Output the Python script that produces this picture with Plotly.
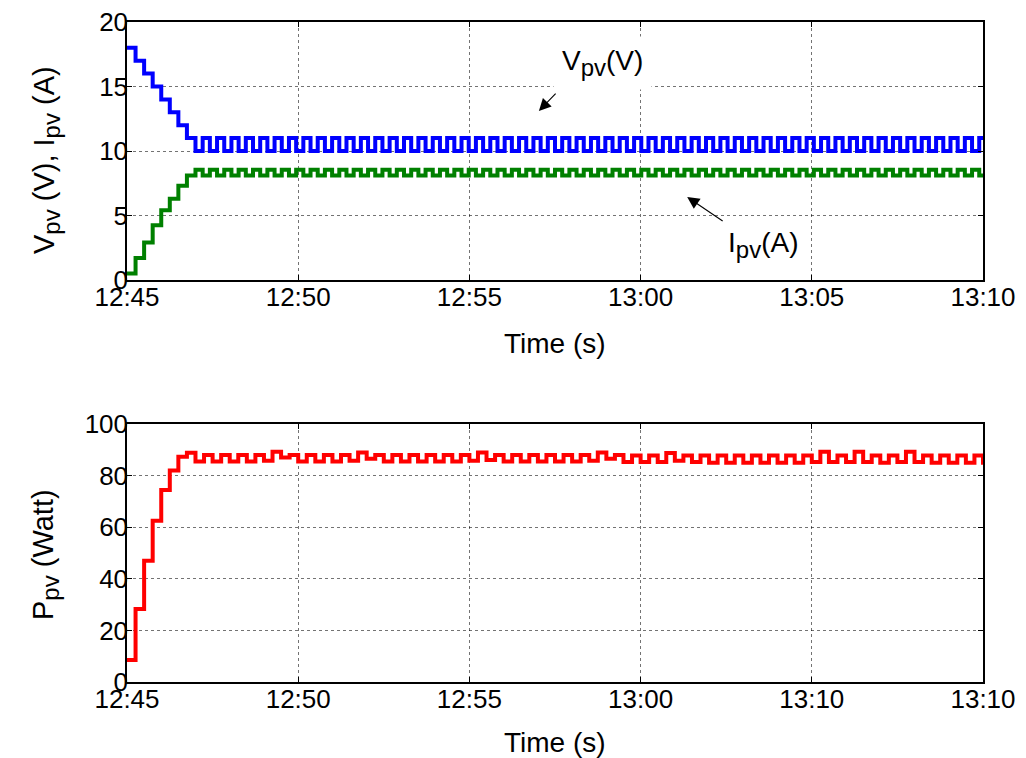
import numpy as np
import plotly.graph_objects as go

# ---------------- data ----------------
# sampling (minutes after 12:45)
TOP_TRANSIENT_DT = 0.25
TOP_OSC_DT = 0.21
BOT_DT = 0.25

v_pv = [18, 17, 16, 15, 14, 13, 12, 11,
        10, 11, 10, 11, 10, 11, 10, 11, 10, 11, 10, 11, 10, 11, 10, 11, 10, 11, 10, 11,
        10, 11, 10, 11, 10, 11, 10, 11, 10, 11, 10, 11, 10, 11, 10, 11, 10, 11, 10, 11,
        10, 11, 10, 11, 10, 11, 10, 11, 10, 11, 10, 11, 10, 11, 10, 11, 10, 11, 10, 11,
        10, 11, 10, 11, 10, 11, 10, 11, 10, 11, 10, 11, 10, 11, 10, 11, 10, 11, 10, 11,
        10, 11, 10, 11, 10, 11, 10, 11, 10, 11, 10, 11, 10, 11, 10, 11, 10, 11, 10, 11,
        10, 11, 10, 11, 10, 11, 10, 11, 10, 11, 10, 11]

i_pv = [0.5, 1.7, 2.9, 4.25, 5.4, 6.3, 7.3, 8.1,
        8.55, 8.1, 8.55, 8.1, 8.55, 8.1, 8.55, 8.1, 8.55, 8.1, 8.55, 8.1, 8.55, 8.1, 8.55, 8.1, 8.55, 8.1, 8.55, 8.1,
        8.55, 8.1, 8.55, 8.1, 8.55, 8.1, 8.55, 8.1, 8.55, 8.1, 8.55, 8.1, 8.55, 8.1, 8.55, 8.1, 8.55, 8.1, 8.55, 8.1,
        8.55, 8.1, 8.55, 8.1, 8.55, 8.1, 8.55, 8.1, 8.55, 8.1, 8.55, 8.1, 8.55, 8.1, 8.55, 8.1, 8.55, 8.1, 8.55, 8.1,
        8.55, 8.1, 8.55, 8.1, 8.55, 8.1, 8.55, 8.1, 8.55, 8.1, 8.55, 8.1, 8.55, 8.1, 8.55, 8.1, 8.55, 8.1, 8.55, 8.1,
        8.55, 8.1, 8.55, 8.1, 8.55, 8.1, 8.55, 8.1, 8.55, 8.1, 8.55, 8.1, 8.55, 8.1, 8.55, 8.1, 8.55, 8.1, 8.55, 8.1,
        8.55, 8.1, 8.55, 8.1, 8.55, 8.1, 8.55, 8.1, 8.55, 8.1, 8.55, 8.1]

p_pv = [8.5, 28.3, 47.0, 62.5, 74.4, 82.0, 87.3, 88.9,
        85.5, 88.0, 85.5, 88.0, 85.5, 88.0, 85.5, 88.0, 85.8, 89.2,
        87.0, 88.0, 85.5, 88.0, 85.5, 88.0, 85.5, 88.0, 85.8, 89.0,
        86.5, 88.0, 85.5, 88.0, 85.5, 88.0, 85.5, 88.0, 85.5, 88.0,
        85.5, 88.0, 85.8, 89.0, 86.0, 88.0, 85.5, 88.0, 85.5, 88.0,
        85.5, 88.0, 85.5, 88.0, 85.5, 88.0, 85.8, 89.0, 86.5, 88.0,
        85.3, 87.8, 85.3, 87.8, 85.3, 88.8, 85.8, 87.8, 85.3, 87.8,
        85.0, 87.8, 85.0, 87.8, 85.0, 87.8, 85.0, 87.8, 85.0, 87.8,
        85.0, 87.8, 85.3, 89.2, 85.3, 87.8, 85.3, 89.2, 85.3, 87.8,
        85.0, 87.8, 85.3, 89.2, 85.3, 87.8, 85.0, 87.8, 85.0, 87.8,
        85.0, 87.8, 85.0, 87.8]

tick_vals = [0, 5, 10, 15, 20, 25]
top_tick_text = ["12:45", "12:50", "12:55", "13:00", "13:05", "13:10"]
bot_tick_text = ["12:45", "12:50", "12:55", "13:00", "13:10", "13:10"]

n_tr = 8
t_top = np.concatenate([np.arange(n_tr) * TOP_TRANSIENT_DT,
                        n_tr * TOP_TRANSIENT_DT + np.arange(len(v_pv) - n_tr) * TOP_OSC_DT])
t_bot = np.arange(len(p_pv)) * BOT_DT

# ---------------- figure ----------------
W, H = 1026, 758


def px(x):
    return x / W


def py(y):
    return 1 - y / H


FONT = "Liberation Sans, Arial, sans-serif"
fig = go.Figure()
fig.add_trace(go.Scatter(x=t_top, y=v_pv, mode="lines", line=dict(color="#0000FF", width=4, shape="hv"),
                         xaxis="x", yaxis="y", showlegend=False))
fig.add_trace(go.Scatter(x=t_top, y=i_pv, mode="lines", line=dict(color="#008000", width=4, shape="hv"),
                         xaxis="x", yaxis="y", showlegend=False))
fig.add_trace(go.Scatter(x=t_bot, y=p_pv, mode="lines", line=dict(color="#FF0000", width=4, shape="hv"),
                         xaxis="x2", yaxis="y2", showlegend=False))

xdom = [px(127), px(983)]
common_x = dict(range=[0, 25], tickvals=tick_vals, showgrid=True, gridcolor="rgba(0,0,0,0.55)",
                griddash="dot", gridwidth=1, zeroline=False, showline=True, linecolor="black",
                linewidth=1.5, mirror="ticks", ticks="inside", ticklen=5, tickcolor="black",
                ticklabelstandoff=-7, ticklabeloverflow="allow",
                tickfont=dict(family=FONT, size=26, color="black"), automargin=False, domain=xdom)
common_y = dict(showgrid=True, gridcolor="rgba(0,0,0,0.55)", griddash="dot", gridwidth=1,
                zeroline=False, showline=True, linecolor="black", linewidth=1.5, mirror="ticks",
                ticks="inside", ticklen=5, tickcolor="black", ticklabelstandoff=-8,
                ticklabeloverflow="allow",
                tickfont=dict(family=FONT, size=26, color="black"), automargin=False)

fig.update_layout(
    width=W, height=H, margin=dict(l=0, r=0, t=0, b=0),
    paper_bgcolor="white", plot_bgcolor="white",
    xaxis=dict(common_x, ticktext=top_tick_text, anchor="y"),
    yaxis=dict(common_y, range=[0, 20], tickvals=[0, 5, 10, 15, 20],
               domain=[py(280), py(22)], anchor="x"),
    xaxis2=dict(common_x, ticktext=bot_tick_text, anchor="y2"),
    yaxis2=dict(common_y, range=[0, 100], tickvals=[0, 20, 40, 60, 80, 100],
                domain=[py(682), py(424)], anchor="x2"),
)

tf = dict(family=FONT, size=28, color="black")
yf = dict(family=FONT, size=29, color="black")
c = dict(xanchor="center", yanchor="middle")
SUB = "<sub><span style='font-size:24px'>pv</span></sub>"
ann = [
    dict(text="Time (s)", xref="paper", yref="paper", x=px(555), y=py(344), showarrow=False, font=tf, **c),
    dict(text="Time (s)", xref="paper", yref="paper", x=px(555), y=py(742), showarrow=False, font=tf, **c),
    dict(text="V" + SUB + " (V), I" + SUB + " (A)", xref="paper", yref="paper",
         x=px(47), y=py(160), textangle=-90, showarrow=False, font=yf, **c),
    dict(text="P" + SUB + " (Watt)", xref="paper", yref="paper",
         x=px(45), y=py(555), textangle=-90, showarrow=False, font=yf, **c),
    # in-plot labels
    dict(text="V" + SUB + "(V)", xref="x", yref="y", x=13.9, y=16.8, showarrow=False,
         font=tf, bgcolor="white", borderpad=8, **c),
    dict(text="I" + SUB + "(A)", xref="x", yref="y", x=18.57, y=2.7, showarrow=False, font=tf, **c),
    # arrows
    dict(text="", xref="x", yref="y", axref="x", ayref="y", x=12.03, y=13.1, ax=12.56, ay=14.57,
         showarrow=True, arrowhead=2, arrowsize=2.2, arrowwidth=1.1, arrowcolor="black"),
    dict(text="", xref="x", yref="y", axref="x", ayref="y", x=16.36, y=6.43, ax=17.44, ay=4.5,
         showarrow=True, arrowhead=2, arrowsize=2.2, arrowwidth=1.1, arrowcolor="black"),
]
fig.update_layout(annotations=ann)

fig.write_html("out.html", config={"displayModeBar": False},
               post_script="document.body.style.margin='0';document.body.style.overflow='hidden';")
